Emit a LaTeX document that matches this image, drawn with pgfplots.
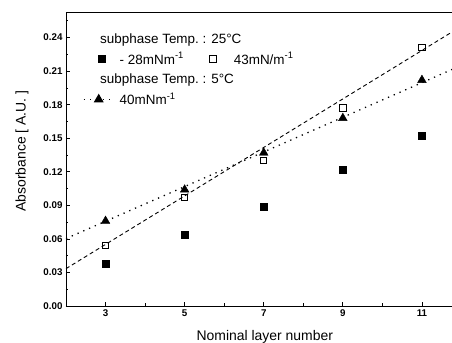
\documentclass[border=0pt]{standalone}
\usepackage{fontspec}
\setmainfont{Liberation Sans}
\usepackage{pgfplots}
\pgfplotsset{compat=1.18}
\pgfplotsset{
  legend image code/.code={\draw[mark repeat=2,mark phase=2,#1] plot coordinates {(0bp,0bp) (15bp,0bp) (30bp,0bp)};},
  markleg/.style={legend image code/.code={\path[draw=none] (0bp,0bp) -- (34bp,0bp); \draw[##1] plot coordinates {(#1,0bp)};}},
  noleg/.style={legend image code/.code={}},
}
\begin{document}
\begin{tikzpicture}
\begin{axis}[
  scale only axis, width=386bp, height=293bp,
  xmin=2, xmax=11.76, ymin=0, ymax=0.262,
  axis x line=box, axis y line*=left, y axis line style={-},
  axis line style={line width=1pt},
  xtick={3,5,7,9,11}, minor xtick={2,4,6,8,10},
  ytick={0,0.03,0.06,0.09,0.12,0.15,0.18,0.21,0.24},
  minor ytick={0.015,0.045,0.075,0.105,0.135,0.165,0.195,0.225,0.255},
  xtick pos=bottom, ytick pos=left,
  tick align=inside,
  major tick length=4bp, minor tick length=2.5bp,
  tick style={black, line width=0.7pt},
  ticklabel style={font=\bfseries\fontsize{9.8}{11}\selectfont},
  yticklabel style={/pgf/number format/.cd, fixed, fixed zerofill, precision=2},
  /pgf/number format/assume math mode=true,
  xlabel={Nominal layer number},
  ylabel={Absorbance [ A.U. ]},
  label style={font=\fontsize{14}{16}\selectfont},
  xlabel style={at={(axis description cs:0.515,-0.106)}, anchor=center},
  ylabel style={at={(axis description cs:-0.114,0.529)}, anchor=center},
  legend style={draw=none, fill=none, at={(rel axis cs:0.036,0.945)}, anchor=north west,
    font=\fontsize{13.5}{15}\selectfont, row sep=4bp,
    /tikz/every even column/.append style={column sep=12bp}},
  legend columns=2, legend cell align=left,
]
% legend entries
\addlegendimage{noleg}
\addlegendentry{\hspace*{-36bp}\rlap{subphase Temp.\ : 25°C}}
\addlegendimage{noleg}
\addlegendentry{}
\addlegendimage{black, mark=square*, mark size=3.5bp, markleg=18bp}
\addlegendentry{{-} 28mNm\textsuperscript{-1}}
\addlegendimage{black, mark=square, mark size=3.2bp, mark options={line width=1pt}, markleg=15bp}
\addlegendentry{43mN/m\textsuperscript{-1}}
\addlegendimage{noleg}
\addlegendentry{\hspace*{-36bp}\rlap{subphase Temp.\ : 5°C}}
\addlegendimage{noleg}
\addlegendentry{}
\addlegendimage{black, line width=1.3pt, dash pattern=on 1.3pt off 5pt, mark=triangle*, mark size=4.5bp, mark options={solid}}
\addlegendentry{40mNm\textsuperscript{-1}}

% fit lines
\addplot[black, line width=0.9pt, dash pattern=on 4pt off 3pt, forget plot] coordinates {(2,0.0334) (11.76,0.245)};
\addplot[black, line width=1.3pt, dash pattern=on 1.3pt off 5pt, forget plot] coordinates {(2,0.0603) (11.76,0.2115)};
% data
\addplot[only marks, black, mark=square*, mark size=3.5bp, forget plot] coordinates {(3,0.038) (5,0.064) (7,0.089) (9,0.122) (11,0.152)};
\addplot[only marks, black, mark=square, mark size=3.2bp, mark options={line width=1pt, fill=white}, forget plot] coordinates {(3,0.054) (5,0.097) (7,0.130) (9,0.177) (11,0.231)};
\addplot[only marks, black, mark=triangle*, mark size=5bp, forget plot] coordinates {(3,0.076) (5,0.104) (7,0.137) (9,0.168) (11,0.202)};

\coordinate (sw) at (rel axis cs:0,0);
\coordinate (ne) at (rel axis cs:1,1);
\end{axis}
\pgfresetboundingbox
\path ([shift={(-66bp,-37bp)}]sw) rectangle ([shift={(0bp,13bp)}]ne);
\end{tikzpicture}
\end{document}
